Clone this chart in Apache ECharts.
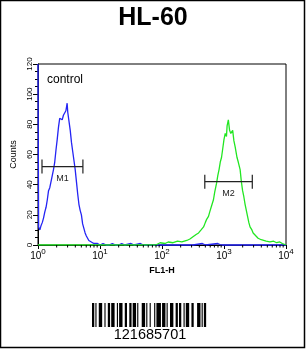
<!DOCTYPE html>
<html>
<head>
<meta charset="utf-8">
<script src="https://cdn.jsdelivr.net/npm/echarts@6/dist/echarts.min.js"></script>
<style>
html,body{margin:0;padding:0;background:#fff;}
#c{width:306px;height:349px;}
</style>
</head>
<body>
<div id="c"></div>
<script>
// ---- data ----
const titleText = 'HL-60';
const xAxisName = 'FL1-H';
const yAxisName = 'Counts';
const sampleLabel = 'control';
const barcodeText = '121685701';

const xMin = 1, xMax = 10000;
const yMin = 0, yMax = 120, yStep = 20;
const decades = [1, 10, 100, 1000];

// control histogram (blue)
const controlX = [1, 1.023, 1.072, 1.122, 1.175, 1.23, 1.288, 1.349, 1.413, 1.479, 1.549, 1.622, 1.698, 1.778, 1.862, 1.95, 2.042, 2.138, 2.239, 2.344, 2.455, 2.57, 2.692, 2.818, 2.951, 3.02, 3.162, 3.311, 3.467, 3.631, 3.802, 3.981, 4.169, 4.365, 4.571, 4.786, 5.012, 5.248, 5.495, 5.754, 6.026, 6.31, 6.607, 6.918, 7.244, 7.586, 7.943, 8.511, 9.12, 10, 11.2, 12.6, 14.1, 15.8, 17.8, 20, 22.4, 25.1, 31.6, 35.5, 44.7, 50.1, 63.1, 100, 316, 447, 501, 794, 891, 3162, 10000];
const controlCount = [120, 12, 10, 13, 15, 18, 22, 25, 30, 36, 38, 42, 46, 50, 55, 63, 70, 78, 84, 84, 83, 86, 85, 89, 94, 88, 82, 76, 68, 62, 56, 50, 42, 34, 27, 23, 20, 14, 11, 8, 6, 5, 3, 4, 2, 3, 1, 2, 1, 0, 1, 0, 0, 1, 0, 0, 1, 0, 1, 0, 1, 0, 0, 0, 0, 1, 0, 1, 0, 0, 0];

// antibody histogram (green)
const sampleX = [1, 10, 79.4, 93.3, 112, 126, 151, 178, 209, 251, 282, 316, 355, 389, 427, 468, 501, 525, 562, 589, 631, 676, 708, 759, 794, 832, 871, 912, 955, 1000, 1047, 1096, 1122, 1175, 1230, 1288, 1380, 1445, 1514, 1622, 1698, 1820, 1905, 1995, 2089, 2188, 2291, 2399, 2512, 2630, 2818, 2951, 3162, 3548, 3981, 4266, 4786, 5495, 6310, 7079, 7943, 8710, 9333, 10000];
const sampleCount = [0, 0, 0, 1.5, 1, 2, 1.5, 2.5, 2, 3, 4, 5.5, 7, 8, 10, 12, 15, 17, 19, 22, 26, 30, 35, 41, 46, 50, 55, 58, 64, 70, 74, 72, 79, 83, 76, 74, 76, 69, 65, 58, 55, 50, 42, 36, 32, 27, 23, 19, 15, 12, 10, 8, 7, 4.5, 3.5, 3, 2.5, 2, 2.5, 1.5, 2, 1, 1.5, 0];

// gates
const gateLabels = ['M1', 'M2'];
const gateStart = [1.16, 490];
const gateEnd = [5.3, 2860];
const gateLevel = [52, 42];

// barcode bar/space module widths (bar first)
const barcodeWidths = [2,1,1,2,3,2, 1,2,2,1,3,2, 1,1,3,2,2,2, 2,1,3,1,1,3, 3,1,1,2,1,3, 1,1,4,1,3,1, 1,2,3,2,2,1, 2,2,1,1,3,2, 2,3,3,1,1,1,2];

// ---- build ----
const FONT = '"Liberation Sans", Arial, sans-serif';
const chart = echarts.init(document.getElementById('c'), null, {renderer: 'canvas'});

const blueData = controlX.map((x, i) => [x, controlCount[i]]);
const greenData = sampleX.map((x, i) => [x, sampleCount[i]]);
const gateData = gateLabels.map((l, i) => [gateStart[i], gateEnd[i], gateLevel[i]]);
const minorVals = [];
decades.forEach(d => { for (let k = 2; k <= 9; k++) minorVals.push([k * d]); });

// barcode graphic
const bcLeft = 92, bcTop = 303, bcHeight = 24, mod = 1.13;
const bcChildren = [];
let cx = bcLeft;
barcodeWidths.forEach((w, i) => {
  if (i % 2 === 0) {
    bcChildren.push({type: 'rect', shape: {x: cx, y: bcTop, width: w * mod, height: bcHeight}, style: {fill: '#000'}});
  }
  cx += w * mod;
});

const option = {
  backgroundColor: '#fff',
  animation: false,
  title: {
    text: titleText, left: 'center', top: 1,
    textStyle: {fontFamily: FONT, fontSize: 25, fontWeight: 'bold', color: '#000'}
  },
  grid: {left: 38, top: 64, right: 20, bottom: 104, show: true, borderColor: '#000', borderWidth: 1, backgroundColor: 'transparent'},
  xAxis: {
    type: 'log', logBase: 10, min: xMin, max: xMax,
    name: xAxisName, nameLocation: 'middle', nameGap: 19,
    nameTextStyle: {fontFamily: FONT, fontSize: 9, fontWeight: 'bold', color: '#000'},
    axisLine: {lineStyle: {color: '#000', width: 1}},
    axisTick: {length: 4, lineStyle: {color: '#000'}},
    minorTick: {show: false},
    splitLine: {show: false},
    axisLabel: {
      margin: 3, color: '#000',
      formatter: v => '{b|10}{s|' + Math.round(Math.log10(v)) + '}',
      rich: {
        b: {fontFamily: FONT, fontSize: 10, color: '#000'},
        s: {fontFamily: FONT, fontSize: 8, color: '#000', padding: [0, 0, 8, 0]}
      }
    }
  },
  yAxis: {
    type: 'value', min: yMin, max: yMax, interval: yStep,
    name: yAxisName, nameLocation: 'middle', nameGap: 20, nameRotate: 90,
    nameTextStyle: {fontFamily: FONT, fontSize: 9, color: '#000'},
    axisLine: {show: true, lineStyle: {color: '#000', width: 1}},
    axisTick: {show: true, length: 5, lineStyle: {color: '#000'}},
    minorTick: {show: true, splitNumber: 4, length: 3, lineStyle: {color: '#000'}},
    splitLine: {show: false},
    axisLabel: {rotate: 90, fontFamily: FONT, fontSize: 8, color: '#000', margin: 4}
  },
  series: [
    {
      type: 'line', data: blueData, showSymbol: false, symbol: 'none',
      lineStyle: {color: '#2424f4', width: 1.3}, clip: false, z: 3
    },
    {
      type: 'line', data: greenData, showSymbol: false, symbol: 'none',
      lineStyle: {color: '#22e622', width: 1.3}, clip: true, z: 4
    },
    {
      type: 'custom', data: gateData, encode: {x: [0, 1], y: 2}, z: 5, clip: false,
      renderItem: (params, api) => {
        const a = api.coord([api.value(0), api.value(2)]);
        const b = api.coord([api.value(1), api.value(2)]);
        const h = 7;
        const st = {stroke: '#222', lineWidth: 1.2};
        return {type: 'group', children: [
          {type: 'line', shape: {x1: a[0], y1: a[1], x2: b[0], y2: b[1]}, style: st},
          {type: 'line', shape: {x1: a[0], y1: a[1] - h, x2: a[0], y2: a[1] + h}, style: st},
          {type: 'line', shape: {x1: b[0], y1: b[1] - h, x2: b[0], y2: b[1] + h}, style: st},
          {type: 'text', x: (a[0] + b[0]) / 2, y: a[1] + 7, style: {text: gateLabels[params.dataIndex], fontFamily: FONT, fontSize: 9, fill: '#222', align: 'center', verticalAlign: 'top'}}
        ]};
      }
    },
    {
      type: 'custom', data: minorVals, encode: {x: 0}, z: 5, clip: false, silent: true,
      renderItem: (params, api) => {
        const p = api.coord([api.value(0), yMin]);
        return {type: 'line', shape: {x1: p[0], y1: p[1], x2: p[0], y2: p[1] + 2.5}, style: {stroke: '#000', lineWidth: 1}};
      }
    }
  ],
  graphic: [
    {type: 'rect', shape: {x: 0.5, y: 0.5, width: 304, height: 347}, style: {fill: 'none', stroke: '#000', lineWidth: 1.5}, z: 100},
    {type: 'text', x: 47, y: 74, style: {text: sampleLabel, fontFamily: FONT, fontSize: 12, fill: '#000'}, z: 100},
    {type: 'group', children: bcChildren, z: 100},
    {type: 'text', x: 150, y: 327, style: {text: barcodeText, fontFamily: FONT, fontSize: 14.5, fill: '#000', align: 'center'}, z: 100}
  ]
};
chart.setOption(option);
</script>
</body>
</html>
